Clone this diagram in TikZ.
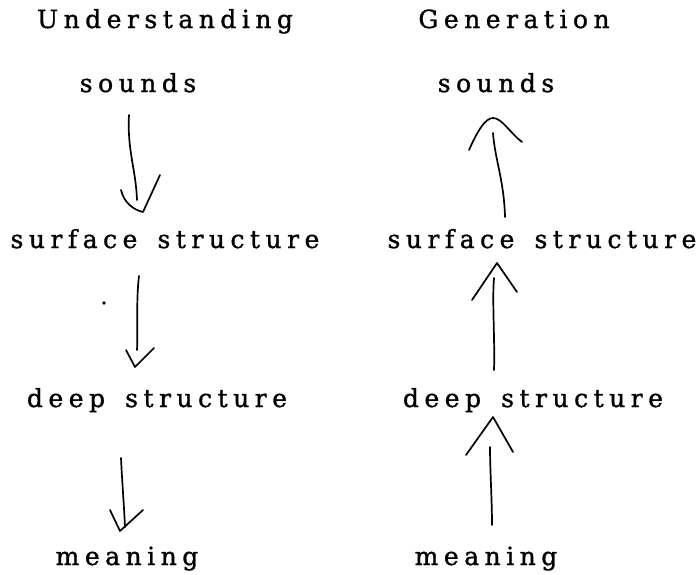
\documentclass[tikz,border=0pt]{standalone}
\usepackage{fontspec}
\newfontfamily\typefont{DejaVu Serif}[LetterSpace=22, WordSpace=1.5, FakeBold=1.2]
\begin{document}
\begin{tikzpicture}[x=1pt,y=-1pt,
  label/.style={font=\typefont\fontsize{25}{30}\selectfont, anchor=base, inner sep=0pt},
  pen/.style={line width=1.7pt, line cap=round, line join=round}]
\useasboundingbox (0,0) rectangle (700,574);

% Understanding column (top to bottom)
\node[label] (uhead) at (165,28)  {Understanding};
\node[label] (usnd)  at (138,92)  {sounds};
\node[label] (usurf) at (165,248) {surface structure};
\node[label] (udeep) at (157,407) {deep structure};
\node[label] (umean) at (127,565) {meaning};

% Generation column (bottom to top)
\node[label] (ghead) at (514,28)  {Generation};
\node[label] (gsnd)  at (496,92)  {sounds};
\node[label] (gsurf) at (542,248) {surface structure};
\node[label] (gdeep) at (533,407) {deep structure};
\node[label] (gmean) at (486,565) {meaning};

% end points of the hand-drawn shafts
\coordinate (u1a) at (129,115); \coordinate (u1b) at (137,200);
\coordinate (u2a) at (139,276); \coordinate (u2b) at (137,350);
\coordinate (u3a) at (121,458); \coordinate (u3b) at (125,527);
\coordinate (g1a) at (505,217); \coordinate (g1b) at (493,133);
\coordinate (g2a) at (494,370); \coordinate (g2b) at (494,278);
\coordinate (g3a) at (492,525); \coordinate (g3b) at (490,447);

% downward arrows
\draw[pen] (u1a) .. controls (127,150) and (136,170) .. (u1b);
\draw[pen] (121,190) .. controls (124,203) and (134,210) .. (143,212) -- (160,175);
\draw[pen] (u2a) .. controls (136,300) and (138,330) .. (u2b);
\draw[pen] (126,350) -- (135,367) -- (154,348);
\fill (104,303) circle (1.8);
\draw[pen] (u3a) .. controls (122,480) and (124,505) .. (u3b);
\draw[pen] (110,510) -- (120,531) -- (143,510);

% upward arrows
\draw[pen] (g1a) .. controls (504,180) and (495,160) .. (g1b);
\draw[pen] (469,150) .. controls (477,132) and (485,118) .. (493,118)
           .. controls (502,118) and (510,133) .. (522,142);
\draw[pen] (g2a) .. controls (495,340) and (492,300) .. (g2b);
\draw[pen] (472,300) -- (497,263) -- (517,292);
\draw[pen] (g3a) .. controls (492,500) and (490,470) .. (g3b);
\draw[pen] (466,455) -- (493,417) -- (513,452);
\end{tikzpicture}
\end{document}
